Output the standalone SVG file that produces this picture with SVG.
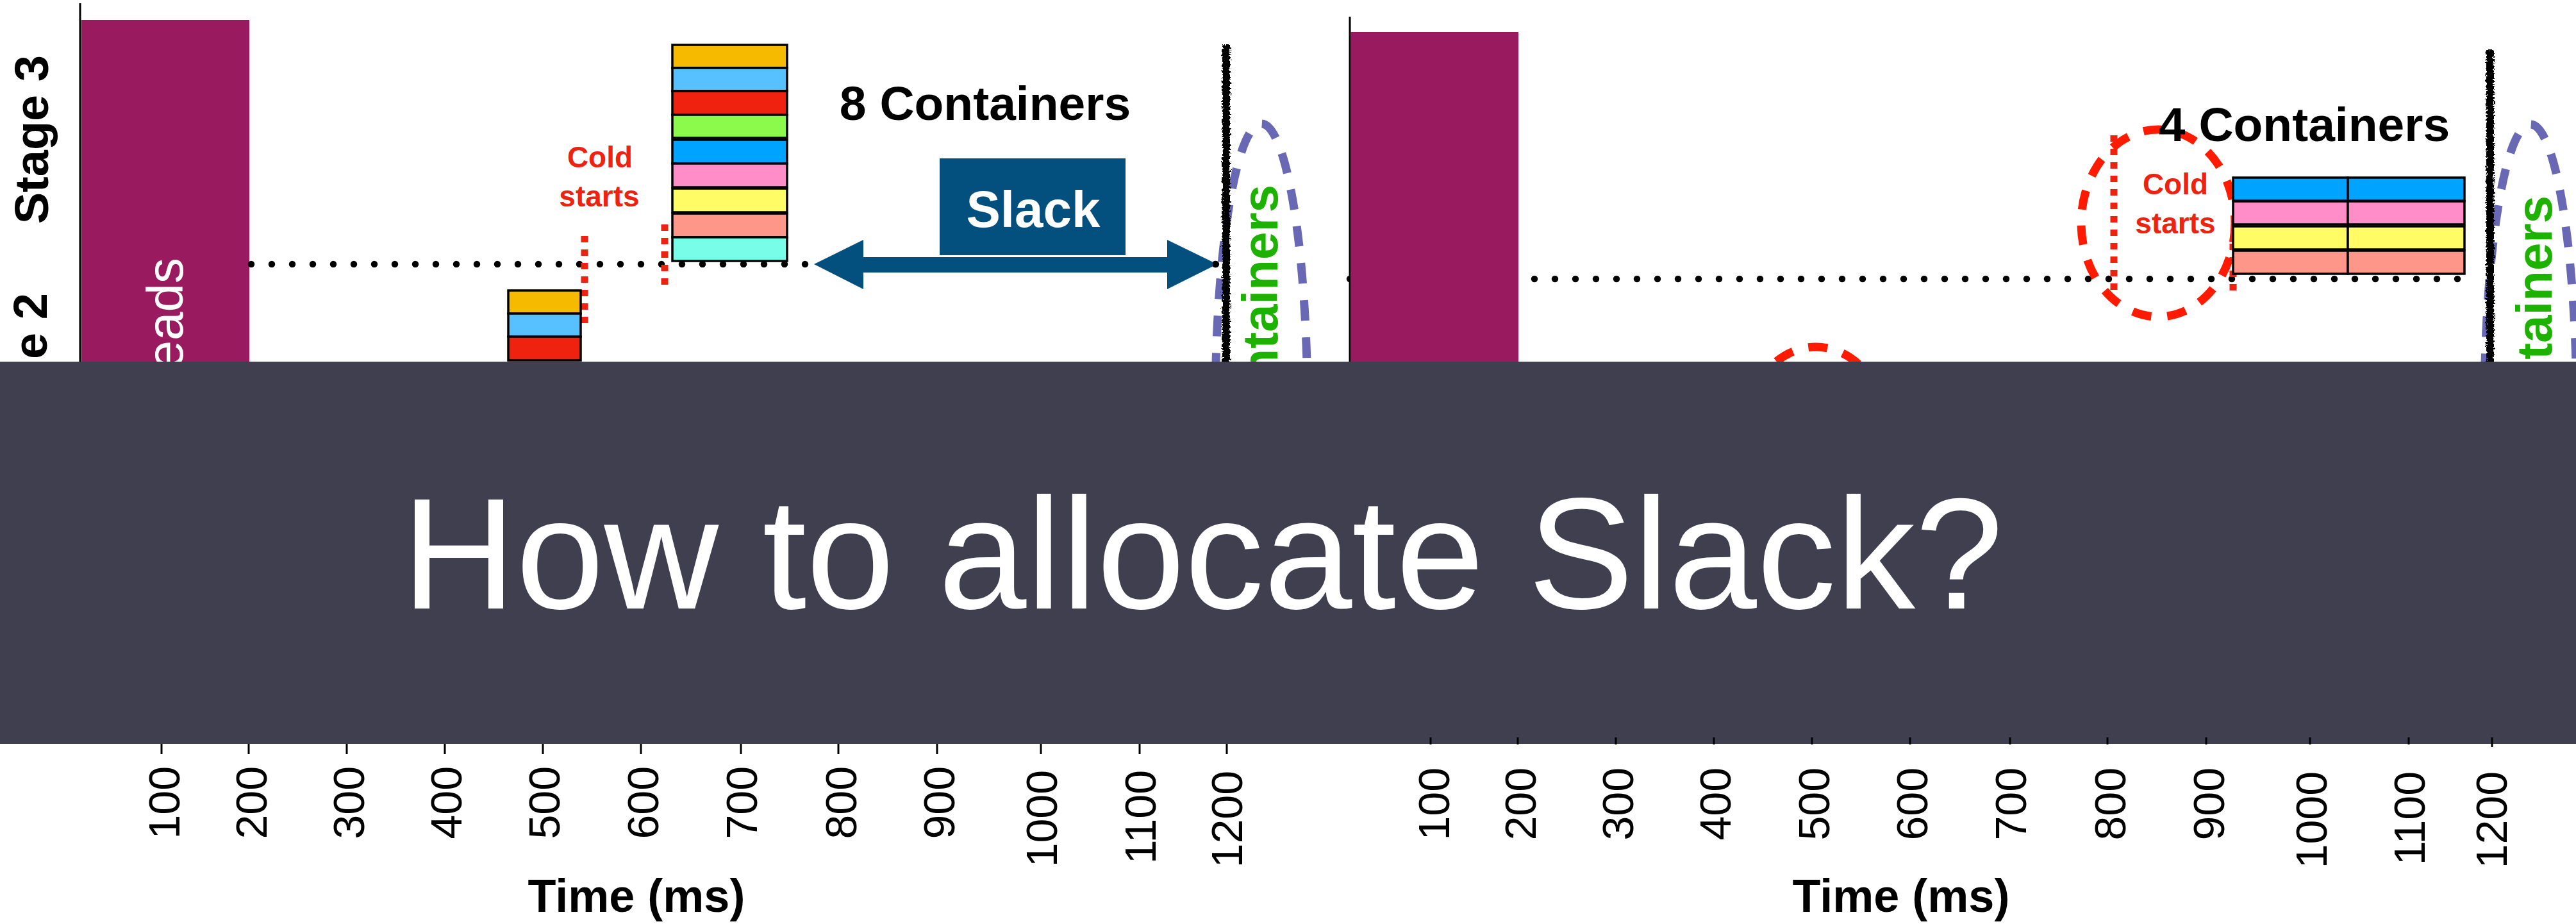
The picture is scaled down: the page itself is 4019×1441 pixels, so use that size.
<svg xmlns="http://www.w3.org/2000/svg" width="4019" height="1441" viewBox="0 0 4019 1441">
  <style>
    text { font-family: "Liberation Sans", Arial, Helvetica, sans-serif; }
    .axis { stroke: #000; stroke-width: 3; fill: none; }
    .tick { stroke: #000; stroke-width: 3; }
    .bar { fill: #991a5e; }
    .dots { stroke: #000; stroke-width: 10.5; stroke-linecap: round; stroke-dasharray: 0 32; fill: none; }
    .cold-line { stroke: #ee2211; stroke-width: 11; stroke-dasharray: 10 11; fill: none; }
    .cold-ring { stroke: #ff1a00; stroke-width: 13; stroke-dasharray: 30 25; fill: none; }
    .group-ring { stroke: #6868b4; stroke-width: 13; stroke-dasharray: 32 26; fill: none; }
    .deadline { fill: #000; }
    .box { stroke: #000; stroke-width: 3.5; }
    .tick-label { font-size: 68px; fill: #000; }
    .axis-title { font-size: 72px; font-weight: bold; fill: #000; }
    .stage { font-size: 74px; font-weight: bold; fill: #000; }
    .count { font-size: 75px; font-weight: bold; fill: #000; }
    .cold-text { font-size: 46px; font-weight: bold; fill: #ee2211; text-anchor: middle; }
    .green { font-size: 78px; font-weight: bold; fill: #1db100; }
    .c-orange { fill: #f6bb00; } .c-lblue { fill: #57c0fe; } .c-red { fill: #ee220f; }
    .c-green { fill: #8bfa4b; } .c-blue { fill: #00a3ff; } .c-pink { fill: #ff8ec8; }
    .c-yellow { fill: #fffc66; } .c-salmon { fill: #fe9789; } .c-cyan { fill: #77fde8; }
  </style>
  <defs>
    <!-- chalky edge for the hand-drawn deadline strokes -->
    <filter id="rough" filterUnits="userSpaceOnUse" x="0" y="0" width="4019" height="1441">
      <feTurbulence type="fractalNoise" baseFrequency="0.35" numOctaves="2" seed="4" result="noise"/>
      <feDisplacementMap in="SourceGraphic" in2="noise" scale="9" xChannelSelector="R" yChannelSelector="G"/>
    </filter>
  </defs>

  <rect width="4019" height="1441" fill="#fff"/>

  <!-- Left panel: 8 containers -->
  <g id="panel-left">
    <g id="left-axis">
      <line class="axis" x1="125" y1="5" x2="125" y2="564"/>
      <text class="stage" transform="translate(75,86) rotate(-90)" text-anchor="end">Stage 3</text>
      <text class="stage" transform="translate(73,457) rotate(-90)" text-anchor="end">e 2</text>
    </g>
    <g id="left-threads">
      <rect class="bar" x="127" y="31" width="262" height="533"/>
      <text transform="translate(285,402) rotate(-90)" text-anchor="end" font-size="80" fill="#fff">eads</text>
    </g>
    <line id="left-stage-boundary" class="dots" x1="392" y1="412" x2="1897" y2="412"/>
    <g id="left-cold-starts">
      <line class="cold-line" x1="912" y1="368" x2="912" y2="507"/>
      <line class="cold-line" x1="1037" y1="350" x2="1037" y2="445"/>
      <text class="cold-text" x="936" y="261">Cold</text>
      <text class="cold-text" x="935" y="322">starts</text>
    </g>
    <g id="left-small-stack">
      <rect class="box c-orange" x="793" y="453" width="113" height="36"/>
      <rect class="box c-lblue" x="793" y="489" width="113" height="36"/>
      <rect class="box c-red" x="793" y="525" width="113" height="37"/>
    </g>
    <g id="left-stack">
      <rect class="box c-orange" x="1049" y="70" width="179" height="36"/>
      <rect class="box c-lblue" x="1049" y="106" width="179" height="36"/>
      <rect class="box c-red" x="1049" y="142" width="179" height="37"/>
      <rect class="box c-green" x="1049" y="179" width="179" height="36"/>
      <rect class="box c-blue" x="1049" y="218" width="179" height="37"/>
      <rect class="box c-pink" x="1049" y="255" width="179" height="37"/>
      <rect class="box c-yellow" x="1049" y="294" width="179" height="37"/>
      <rect class="box c-salmon" x="1049" y="333" width="179" height="37"/>
      <rect class="box c-cyan" x="1049" y="370" width="179" height="37"/>
    </g>
    <text id="left-count" class="count" x="1537" y="187" text-anchor="middle">8 Containers</text>
    <g id="slack">
      <rect x="1466" y="247" width="290" height="151" fill="#03507f"/>
      <text x="1612" y="354" text-anchor="middle" font-size="80" font-weight="bold" fill="#fff">Slack</text>
    </g>
    <g id="left-group">
      <ellipse class="group-ring" cx="1968" cy="641" rx="72" ry="448"/>
      <text class="green" transform="translate(1993,288) rotate(-90)" text-anchor="end">ntainers</text>
    </g>
    <g id="left-deadline" filter="url(#rough)">
      <rect class="deadline" x="1907" y="70" width="12" height="500"/>
      <rect class="deadline" x="1909" y="74" width="7" height="496" transform="rotate(0.3 1913 320)"/>
    </g>
  </g>

  <!-- Right panel: 4 containers -->
  <g id="panel-right">
    <line id="right-axis" class="axis" x1="2106" y1="26" x2="2106" y2="564"/>
    <line id="right-stage-boundary" class="dots" x1="2106" y1="435" x2="3866" y2="435"/>
    <rect id="right-threads" class="bar" x="2107" y="50" width="262" height="514"/>
    <ellipse id="right-lower-ring" class="cold-ring" cx="2833" cy="687" rx="115" ry="146"/>
    <g id="right-cold-starts">
      <line class="cold-line" x1="3298" y1="211" x2="3298" y2="455"/>
      <line class="cold-line" x1="3484" y1="380" x2="3484" y2="464"/>
      <ellipse class="cold-ring" cx="3367" cy="348" rx="120" ry="146"/>
      <text class="cold-text" x="3394" y="303">Cold</text>
      <text class="cold-text" x="3394" y="364">starts</text>
    </g>
    <g id="right-grid">
      <rect class="box c-blue" x="3484" y="277" width="179" height="36"/>
      <rect class="box c-blue" x="3663" y="277" width="182" height="36"/>
      <rect class="box c-pink" x="3484" y="314" width="179" height="36"/>
      <rect class="box c-pink" x="3663" y="314" width="182" height="36"/>
      <rect class="box c-yellow" x="3484" y="353" width="179" height="36"/>
      <rect class="box c-yellow" x="3663" y="353" width="182" height="36"/>
      <rect class="box c-salmon" x="3484" y="391" width="179" height="36"/>
      <rect class="box c-salmon" x="3663" y="391" width="182" height="36"/>
    </g>
    <text id="right-count" class="count" x="3595" y="220" text-anchor="middle">4 Containers</text>
    <g id="right-group">
      <ellipse class="group-ring" cx="3948" cy="642" rx="72" ry="448"/>
      <text class="green" transform="translate(3981,305) rotate(-90)" text-anchor="end">ntainers</text>
    </g>
    <g id="right-deadline" filter="url(#rough)">
      <rect class="deadline" x="3879" y="78" width="12" height="492"/>
      <rect class="deadline" x="3881" y="82" width="7" height="488" transform="rotate(-0.3 3885 320)"/>
    </g>
  </g>

  <!-- Slack double arrow -->
  <g id="connectors">
    <polygon points="1270,412 1347,374 1347,401 1821,401 1821,374 1899,412 1821,451 1821,425 1347,425 1347,451" fill="#03507f"/>
    <circle cx="1897" cy="412" r="5.2" fill="#000"/>
  </g>

  <!-- Question banner -->
  <g id="banner">
    <rect x="0" y="564" width="4019" height="596" fill="#403f4f"/>
    <text x="1876" y="949" text-anchor="middle" font-size="247" fill="#fff">How to allocate Slack?</text>
  </g>

  <!-- Time axes -->
  <g id="left-time-axis">
    <g class="ticks">
      <line class="tick" x1="252" y1="1160" x2="252" y2="1176"/>
      <line class="tick" x1="388" y1="1160" x2="388" y2="1176"/>
      <line class="tick" x1="541" y1="1160" x2="541" y2="1176"/>
      <line class="tick" x1="694" y1="1160" x2="694" y2="1176"/>
      <line class="tick" x1="847" y1="1160" x2="847" y2="1176"/>
      <line class="tick" x1="1000" y1="1160" x2="1000" y2="1176"/>
      <line class="tick" x1="1156" y1="1160" x2="1156" y2="1176"/>
      <line class="tick" x1="1308" y1="1160" x2="1308" y2="1176"/>
      <line class="tick" x1="1462" y1="1160" x2="1462" y2="1176"/>
      <line class="tick" x1="1624" y1="1160" x2="1624" y2="1176"/>
      <line class="tick" x1="1778" y1="1160" x2="1778" y2="1176"/>
      <line class="tick" x1="1914" y1="1160" x2="1914" y2="1176"/>
    </g>
    <g class="tick-label" text-anchor="end">
      <text transform="translate(280,1195) rotate(-90)">100</text>
      <text transform="translate(416,1195) rotate(-90)">200</text>
      <text transform="translate(568,1195) rotate(-90)">300</text>
      <text transform="translate(720,1195) rotate(-90)">400</text>
      <text transform="translate(873,1195) rotate(-90)">500</text>
      <text transform="translate(1027,1195) rotate(-90)">600</text>
      <text transform="translate(1181,1195) rotate(-90)">700</text>
      <text transform="translate(1336,1195) rotate(-90)">800</text>
      <text transform="translate(1489,1195) rotate(-90)">900</text>
      <text transform="translate(1649,1201) rotate(-90)">1000</text>
      <text transform="translate(1803,1201) rotate(-90)">1100</text>
      <text transform="translate(1938,1202) rotate(-90)">1200</text>
    </g>
    <text class="axis-title" x="993" y="1422" text-anchor="middle">Time (ms)</text>
  </g>

  <g id="right-time-axis">
    <g class="ticks">
      <line class="tick" x1="2232" y1="1150" x2="2232" y2="1161"/>
      <line class="tick" x1="2368" y1="1150" x2="2368" y2="1161"/>
      <line class="tick" x1="2521" y1="1150" x2="2521" y2="1161"/>
      <line class="tick" x1="2674" y1="1150" x2="2674" y2="1161"/>
      <line class="tick" x1="2827" y1="1150" x2="2827" y2="1161"/>
      <line class="tick" x1="2980" y1="1150" x2="2980" y2="1161"/>
      <line class="tick" x1="3136" y1="1150" x2="3136" y2="1161"/>
      <line class="tick" x1="3288" y1="1150" x2="3288" y2="1161"/>
      <line class="tick" x1="3442" y1="1150" x2="3442" y2="1161"/>
      <line class="tick" x1="3604" y1="1150" x2="3604" y2="1161"/>
      <line class="tick" x1="3758" y1="1150" x2="3758" y2="1161"/>
      <line class="tick" x1="3888" y1="1150" x2="3888" y2="1165"/>
    </g>
    <g class="tick-label" text-anchor="end">
      <text transform="translate(2261,1197) rotate(-90)">100</text>
      <text transform="translate(2396,1197) rotate(-90)">200</text>
      <text transform="translate(2548,1197) rotate(-90)">300</text>
      <text transform="translate(2700,1197) rotate(-90)">400</text>
      <text transform="translate(2854,1197) rotate(-90)">500</text>
      <text transform="translate(3007,1197) rotate(-90)">600</text>
      <text transform="translate(3161,1197) rotate(-90)">700</text>
      <text transform="translate(3316,1197) rotate(-90)">800</text>
      <text transform="translate(3470,1197) rotate(-90)">900</text>
      <text transform="translate(3630,1203) rotate(-90)">1000</text>
      <text transform="translate(3783,1203) rotate(-90)">1100</text>
      <text transform="translate(3911,1203) rotate(-90)">1200</text>
    </g>
    <text class="axis-title" x="2966" y="1422" text-anchor="middle" font-size="70">Time (ms)</text>
  </g>
</svg>
